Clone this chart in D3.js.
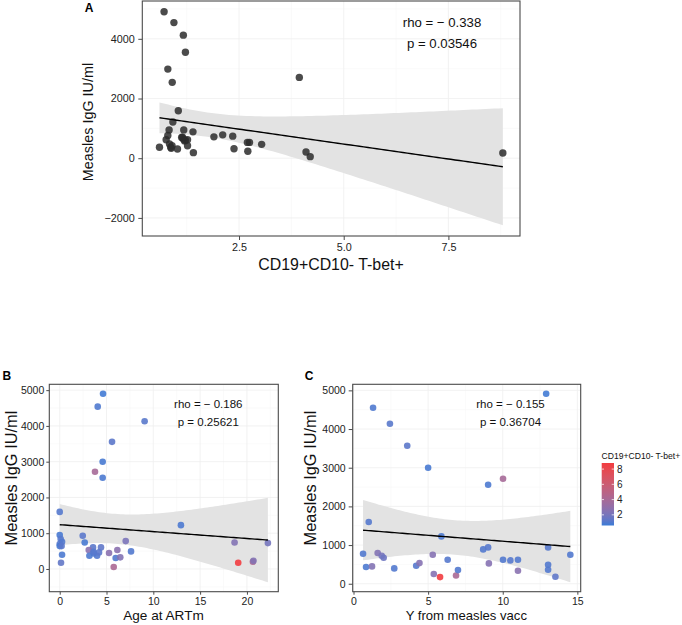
<!DOCTYPE html>
<html><head><meta charset="utf-8">
<script src="https://cdn.jsdelivr.net/npm/d3@7"></script>
<style>
body{margin:0;background:#fff;}
svg{display:block;font-family:"Liberation Sans",Arial,Helvetica,sans-serif;}
</style></head>
<body><svg id="chart" width="682" height="625"></svg>
<script>
// ---------- DATA ----------
// Panel A: CD19+CD10- T-bet+ vs Measles IgG
const aTbet = [0.71,0.945,1.17,1.22,0.80,0.905,3.94,1.05,0.92,0.83,1.18,1.40,0.80,0.76,1.13,1.17,1.22,1.27,1.20,0.60,0.84,0.87,0.90,1.03,1.27,1.41,1.90,2.11,2.35,2.38,2.70,2.75,2.71,3.04,4.10,4.20,8.80,0.88,1.15];
const aIgG  = [4909,4544,4123,3549,2985,2541,2707,1592,1214,949,949,883,763,617,697,640,600,620,580,365,474,365,420,308,418,186,716,783,740,318,530,530,232,464,209,53,176,330,700];
// Panel B: Age at ARTm
const bAge  = [4.63,4.06,9.07,5.59,4.59,3.77,4.59,0,12.95,0,0.1,0.25,0,0,0.2,0.25,0.14,2.46,2.67,3.56,3.1,4.41,3.63,3.17,3.99,4.2,3.6,5.27,6.16,7.05,7.62,5.98,6.47,5.77,18.68,19.07,20.64,20.7,22.24];
const bIgG  = [4900,4538,4130,3554,2997,2719,2552,1596,1225,947,835,760,700,640,640,399,176,928,742,603,529,603,436,371,371,464,480,445,529,780,492,306,325,56,742,176,204,232,724];
const bTbet = [0.71,0.95,1.17,1.22,0.8,3.94,0.9,1.05,0.92,0.83,1.1,1.0,1.1,0.8,1.2,0.9,1.4,1.2,0.8,1.2,2.7,1.3,1.0,0.9,1.0,1.2,1.1,2.7,2.7,2.1,1.0,1.0,2.4,4.2,2.4,8.8,4.1,2.4,1.9];
// Panel C: Y from measles vacc
const cYvac = [12.91,1.31,2.44,3.6,5.0,10.02,9.02,1.02,5.89,0.64,0.84,1.24,1.62,1.89,2.02,2.73,4.2,4.42,5.31,5.38,5.8,6.31,6.87,7.0,8.69,9.02,9.07,10.02,10.51,11.02,11.02,13.04,13.04,13.04,13.53,14.53];
const cIgG  = [4913,4551,4138,3569,3000,2715,2560,1595,1224,776,431,448,793,724,672,397,465,534,750,250,172,620,215,353,888,940,526,620,603,620,336,940,491,362,181,750];
const cTbet = [0.71,0.95,1.17,1.22,0.8,3.94,0.9,1.05,0.92,1.0,0.9,2.4,2.4,2.0,1.7,1.0,1.1,2.5,2.5,2.5,8.8,1.1,4.1,1.0,1.0,1.1,2.5,1.0,1.1,1.0,2.6,1.1,1.0,1.0,1.3,1.0];
// Axis ticks
const aXTicks = [2.5,5.0,7.5];
const aYTicks = [-2000,0,2000,4000];
const bXTicks = [0,5,10,15,20];
const bYTicks = [0,1000,2000,3000,4000,5000];
const cXTicks = [0,5,10,15];
const cYTicks = [0,1000,2000,3000,4000,5000];
const legendTicks = [2,4,6,8];
// Labels
const yTitle = "Measles IgG IU/ml";
const aXTitle = "CD19+CD10- T-bet+";
const bXTitle = "Age at ARTm";
const cXTitle = "Y from measles vacc";
const aStats = ["rho = \u2212 0.338","p = 0.03546"];
const bStats = ["rho = \u2212 0.186","p = 0.25621"];
const cStats = ["rho = \u2212 0.155","p = 0.36704"];
const legendTitle = "CD19+CD10- T-bet+";

// ---------- HELPERS ----------
const svg = d3.select("#chart");
const colLow = "#3b7bd6", colHigh = "#f23c40";
const tExt = d3.extent(aTbet);
const colorScale = d3.scaleLinear().domain(tExt).range([colLow,colHigh]).interpolate(d3.interpolateLab);

function tq(df){ // 97.5% t quantile approx
  const z=1.959964;
  return z + (z**3+z)/(4*df) + (5*z**5+16*z**3+3*z)/(96*df*df) + (3*z**7+19*z**5+17*z**3-15*z)/(384*df**3);
}
function lmFit(xs, ys){
  const n=xs.length, mx=d3.mean(xs), my=d3.mean(ys);
  let sxx=0,sxy=0;
  for(let i=0;i<n;i++){sxx+=(xs[i]-mx)**2;sxy+=(xs[i]-mx)*(ys[i]-my);}
  const b=sxy/sxx, a=my-b*mx;
  let sse=0; for(let i=0;i<n;i++){sse+=(ys[i]-a-b*xs[i])**2;}
  const s=Math.sqrt(sse/(n-2)), t=tq(n-2);
  const [x0,x1]=d3.extent(xs);
  return d3.range(80).map(k=>{
    const x=x0+(x1-x0)*k/79, yh=a+b*x, se=s*Math.sqrt(1/n+(x-mx)**2/sxx);
    return {x, y:yh, lo:yh-t*se, hi:yh+t*se};
  });
}
function expand([a,b]){const d=(b-a)*0.05;return [a-d,b+d];}

function panel(o){
  const g = svg.append("g");
  const fit = lmFit(o.xs, o.ys);
  const xd = expand(d3.extent(o.xs));
  const yd = expand([Math.min(d3.min(o.ys), d3.min(fit,d=>d.lo)), Math.max(d3.max(o.ys), d3.max(fit,d=>d.hi))]);
  const x = d3.scaleLinear().domain(xd).range([o.left,o.right]);
  const y = d3.scaleLinear().domain(yd).range([o.bottom,o.top]);
  // grid
  const xt=o.xTicks, yt=o.yTicks;
  const xstep=xt[1]-xt[0], ystep=yt[1]-yt[0];
  const xMinor=d3.range(xt[0]-xstep/2, xd[1], xstep).filter(v=>v>xd[0]);
  const yMinor=d3.range(yt[0]-ystep/2, yd[1], ystep).filter(v=>v>yd[0]);
  g.selectAll(".gmx").data(xMinor).join("line").attr("x1",d=>x(d)).attr("x2",d=>x(d)).attr("y1",o.top).attr("y2",o.bottom).attr("stroke","#f6f6f6").attr("stroke-width",0.6);
  g.selectAll(".gmy").data(yMinor).join("line").attr("y1",d=>y(d)).attr("y2",d=>y(d)).attr("x1",o.left).attr("x2",o.right).attr("stroke","#f6f6f6").attr("stroke-width",0.6);
  g.selectAll(".gx").data(xt).join("line").attr("x1",d=>x(d)).attr("x2",d=>x(d)).attr("y1",o.top).attr("y2",o.bottom).attr("stroke","#efefef").attr("stroke-width",0.8);
  g.selectAll(".gy").data(yt).join("line").attr("y1",d=>y(d)).attr("y2",d=>y(d)).attr("x1",o.left).attr("x2",o.right).attr("stroke","#efefef").attr("stroke-width",0.8);
  // ribbon
  g.append("path").datum(fit).attr("fill","#e3e3e3")
    .attr("d", d3.area().x(d=>x(d.x)).y0(d=>y(d.lo)).y1(d=>y(d.hi)));
  // points
  g.selectAll(".pt").data(o.xs.map((v,i)=>({x:v,y:o.ys[i],c:o.cs?o.cs[i]:null}))).join("circle")
    .attr("cx",d=>x(d.x)).attr("cy",d=>y(d.y)).attr("r",o.r)
    .attr("fill",d=>d.c==null?"#2b2b2b":colorScale(d.c)).attr("fill-opacity",d=>d.c==null?0.85:0.9);
  // line
  g.append("path").datum(fit).attr("fill","none").attr("stroke","#000").attr("stroke-width",1.4)
    .attr("d", d3.line().x(d=>x(d.x)).y(d=>y(d.y)));
  // border
  g.append("rect").attr("x",o.left).attr("y",o.top).attr("width",o.right-o.left).attr("height",o.bottom-o.top)
    .attr("fill","none").attr("stroke","#4a4a4a").attr("stroke-width",1.1);
  // axes
  const xa = g.append("g").attr("transform",`translate(0,${o.bottom})`)
    .call(d3.axisBottom(x).tickValues(xt).tickSize(o.tick).tickPadding(o.xPad).tickFormat(o.xFmt||d3.format("d")));
  const ya = g.append("g").attr("transform",`translate(${o.left},0)`)
    .call(d3.axisLeft(y).tickValues(yt).tickSize(o.ytick||o.tick).tickPadding(o.yPad).tickFormat(d3.format("d")));
  [xa,ya].forEach(a=>{
    a.select(".domain").remove();
    a.selectAll(".tick line").attr("stroke","#4a4a4a");
    a.selectAll("text").attr("fill","#222").attr("font-size",o.tickFont).attr("font-family","Liberation Sans, Arial, sans-serif");
  });
  // titles
  g.append("text").attr("x",o.xtX).attr("y",o.xtY).attr("dy","0.35em").attr("text-anchor","middle")
    .attr("font-size",o.xtFont).attr("fill","#111").text(o.xTitle);
  g.append("text").attr("transform",`translate(${o.ytX},${o.ytY}) rotate(-90)`).attr("dy","0.35em").attr("text-anchor","middle")
    .attr("font-size",o.ytFont).attr("fill","#111").text(yTitle);
  // stats
  o.stats.forEach((s,i)=>{
    g.append("text").attr("x",o.stX).attr("y",o.stY[i]).attr("dy","0.35em").attr("text-anchor","middle")
      .attr("font-size",o.stFont).attr("fill","#111").text(s);
  });
  // panel label
  g.append("text").attr("x",o.lab[1]).attr("y",o.lab[2]).attr("dy","0.35em").attr("text-anchor","middle")
    .attr("font-size",o.labFont).attr("font-weight","bold").attr("fill","#000").text(o.lab[0]);
}

panel({xs:aTbet, ys:aIgG, cs:null, left:142.3, right:520, top:1, bottom:236, r:3.7,
  xTicks:aXTicks, yTicks:aYTicks, xFmt:d3.format(".1f"), tick:4, xPad:3.5, yPad:3.5, tickFont:"10.8px",
  xTitle:aXTitle, xtX:331, xtY:264.5, xtFont:"15.9px", ytX:88, ytY:122, ytFont:"14.4px",
  stats:aStats, stX:442, stY:[22.7,43.3], stFont:"13.2px", lab:["A",89,7.5], labFont:"12px"});

panel({xs:bAge, ys:bIgG, cs:bTbet, left:49.3, right:278.3, top:384.3, bottom:591.7, r:3.3,
  xTicks:bXTicks, yTicks:bYTicks, tick:3, xPad:2.5, yPad:2, tickFont:"10.5px",
  xTitle:bXTitle, xtX:163.5, xtY:615, xtFont:"13.6px", ytX:11, ytY:478, ytFont:"16.4px",
  stats:bStats, stX:208.3, stY:[404,421.7], stFont:"11.5px", lab:["B",6.8,376], labFont:"12px"});

panel({xs:cYvac, ys:cIgG, cs:cTbet, left:352.7, right:580.7, top:384.3, bottom:591.7, r:3.3,
  xTicks:cXTicks, yTicks:cYTicks, tick:3, ytick:4, xPad:2.5, yPad:3, tickFont:"10.5px",
  xTitle:cXTitle, xtX:466.3, xtY:615, xtFont:"13.1px", ytX:310, ytY:478, ytFont:"16.4px",
  stats:cStats, stX:510.5, stY:[404,421.7], stFont:"11.5px", lab:["C",309,376], labFont:"12px"});

// ---------- LEGEND ----------
const lg = svg.append("g");
const ly = d3.scaleLinear().domain(tExt).range([525.5,463]);
const defs = svg.append("defs");
const grad = defs.append("linearGradient").attr("id","lgrad").attr("x1",0).attr("y1",1).attr("x2",0).attr("y2",0);
d3.range(0,1.0001,0.1).forEach(f=>{
  grad.append("stop").attr("offset",f).attr("stop-color",colorScale(tExt[0]+f*(tExt[1]-tExt[0])));
});
lg.append("rect").attr("x",601.7).attr("y",ly(tExt[1])).attr("width",12.3).attr("height",ly(tExt[0])-ly(tExt[1])).attr("fill","url(#lgrad)");
lg.selectAll(".lt").data(legendTicks).join("g").each(function(d){
  const s=d3.select(this);
  s.append("line").attr("x1",601.7).attr("x2",604).attr("y1",ly(d)).attr("y2",ly(d)).attr("stroke","#fff").attr("stroke-width",0.7);
  s.append("line").attr("x1",611.7).attr("x2",614).attr("y1",ly(d)).attr("y2",ly(d)).attr("stroke","#fff").attr("stroke-width",0.7);
  s.append("text").attr("x",617).attr("y",ly(d)).attr("dy","0.35em").attr("font-size","10px").attr("fill","#222").text(d);
});
lg.append("text").attr("x",601.5).attr("y",455.7).attr("dy","0.35em").attr("font-size","8.6px").attr("fill","#111").text(legendTitle);
</script></body></html>
